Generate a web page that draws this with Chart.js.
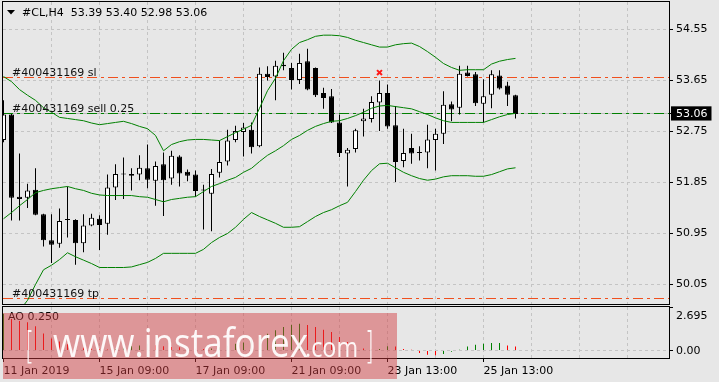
<!DOCTYPE html>
<html>
<head>
<meta charset="utf-8">
<script src="https://cdn.jsdelivr.net/npm/chart.js@4.4.1/dist/chart.umd.min.js"></script>
<style>
  html, body { margin: 0; padding: 0; background: #e7e7e7; }
  #wrap { position: relative; width: 719px; height: 382px; overflow: hidden; }
  #priceCanvas { position: absolute; left: 0; top: 0; }
  #aoCanvas { position: absolute; left: 0; top: 305px; }
</style>
</head>
<body>
<div id="wrap">
  <canvas id="priceCanvas" width="719" height="305"></canvas>
  <canvas id="aoCanvas" width="719" height="77"></canvas>
</div>
<script>
// CL H4 candles, 11 Jan - 25 Jan 2019 (one slot per bar)
const symbol = '#CL,H4';
const lastQuote = ['53.39', '53.40', '52.98', '53.06'];

const opens = [52.60, 53.05, 51.60, 51.58, 51.72, 51.29, 50.83, 50.77, 51.19, 51.19,
  50.78, 51.09, 51.21, 51.12, 51.76, 51.99, 52.00, 51.99, 52.10, 51.88,
  52.17, 51.92, 52.31, 52.04, 51.99, 51.71, 51.65, 52.02, 52.22, 52.60,
  52.74, 52.78, 52.49, 53.77, 53.72, 53.93, 53.87, 53.66, 53.99, 53.87,
  53.43, 53.37, 52.91, 52.36, 52.44, 52.93, 52.97, 53.26, 53.43, 52.86,
  52.23, 52.46, 52.37, 52.38, 52.60, 52.71, 53.23, 53.17, 53.79, 53.76,
  53.24, 53.40, 53.74, 53.56, 53.39];
const highs = [53.30, 53.06, 52.36, 51.83, 52.10, 51.30, 51.29, 51.39, 51.78, 51.20,
  51.29, 51.30, 51.27, 51.99, 52.17, 52.29, 52.10, 52.33, 52.52, 52.22,
  52.38, 52.41, 52.33, 52.08, 52.06, 51.81, 52.09, 52.59, 52.78, 52.85,
  52.90, 52.91, 53.88, 53.90, 54.00, 54.14, 53.96, 54.12, 54.21, 53.88,
  53.52, 53.50, 53.05, 52.46, 52.80, 53.15, 53.37, 53.65, 53.58, 53.20,
  52.80, 52.71, 52.49, 52.87, 52.80, 53.46, 53.28, 53.91, 53.91, 53.80,
  53.67, 53.83, 53.83, 53.63, 53.40];
const lows = [52.56, 51.18, 51.18, 51.40, 51.27, 50.72, 50.43, 50.70, 50.88, 50.40,
  50.62, 51.08, 50.66, 50.93, 51.54, 51.56, 51.71, 51.89, 51.75, 51.44,
  51.26, 51.81, 51.78, 51.87, 51.60, 51.02, 50.99, 51.94, 52.15, 52.56,
  52.31, 52.36, 52.47, 53.65, 53.30, 53.83, 53.49, 53.59, 53.48, 53.36,
  53.15, 52.90, 52.30, 51.78, 52.38, 52.66, 52.91, 52.76, 52.80, 51.86,
  52.12, 52.18, 52.24, 52.10, 52.06, 52.53, 52.93, 53.05, 53.72, 53.20,
  52.91, 53.16, 53.49, 53.20, 52.98];
const closes = [53.05, 51.58, 51.56, 51.71, 51.28, 50.83, 50.75, 51.17, 51.19, 50.78,
  51.09, 51.23, 51.10, 51.76, 52.00, 51.99, 51.97, 52.11, 51.90, 52.14,
  51.89, 52.32, 52.01, 51.97, 51.70, 51.71, 52.00, 52.21, 52.59, 52.76,
  52.82, 52.47, 53.77, 53.71, 53.91, 53.90, 53.66, 53.96, 53.49, 53.39,
  53.34, 52.91, 52.37, 52.43, 52.77, 52.98, 53.27, 53.43, 52.84, 52.21,
  52.37, 52.36, 52.37, 52.61, 52.71, 53.22, 53.14, 53.77, 53.73, 53.25,
  53.37, 53.76, 53.51, 53.40, 53.06];

// Bollinger bands as drawn
const bbUpper = [53.72, 53.63, 53.49, 53.39, 53.30, 53.17, 53.09, 53.00, 52.98, 52.96,
  52.94, 52.90, 52.87, 52.89, 52.91, 52.93, 52.89, 52.84, 52.80, 52.68,
  52.41, 52.52, 52.57, 52.60, 52.61, 52.61, 52.60, 52.59, 52.66, 52.73,
  52.79, 52.86, 53.16, 53.47, 53.69, 54.00, 54.20, 54.32, 54.37, 54.43,
  54.45, 54.45, 54.44, 54.41, 54.36, 54.32, 54.28, 54.24, 54.24, 54.28,
  54.30, 54.31, 54.25, 54.16, 54.06, 53.95, 53.88, 53.83, 53.84, 53.84,
  53.84, 53.94, 53.99, 54.02, 54.04];
const bbMiddle = [51.21, 51.32, 51.44, 51.55, 51.67, 51.71, 51.74, 51.76, 51.78, 51.74,
  51.71, 51.66, 51.63, 51.62, 51.62, 51.62, 51.62, 51.60, 51.59, 51.55,
  51.51, 51.55, 51.57, 51.59, 51.60, 51.69, 51.78, 51.83, 51.89, 51.94,
  52.03, 52.10, 52.22, 52.33, 52.41, 52.50, 52.61, 52.68, 52.77, 52.84,
  52.89, 52.93, 52.94, 52.98, 53.03, 53.09, 53.16, 53.20, 53.21, 53.19,
  53.17, 53.15, 53.10, 53.05, 52.99, 52.94, 52.91, 52.91, 52.91, 52.91,
  52.91, 52.96, 53.01, 53.05, 53.07];
const bbLower = [49.24, 49.41, 49.59, 49.77, 50.05, 50.31, 50.39, 50.49, 50.61, 50.54,
  50.48, 50.42, 50.35, 50.35, 50.35, 50.35, 50.36, 50.40, 50.44, 50.51,
  50.60, 50.60, 50.60, 50.60, 50.60, 50.67, 50.79, 50.88, 50.95, 51.06,
  51.20, 51.32, 51.25, 51.19, 51.13, 51.06, 51.06, 51.07, 51.16, 51.25,
  51.32, 51.37, 51.44, 51.50, 51.69, 51.89, 52.06, 52.18, 52.19, 52.11,
  52.03, 51.97, 51.92, 51.89, 51.91, 51.95, 51.97, 51.97, 51.97, 51.96,
  51.96, 51.99, 52.04, 52.09, 52.11];

// Awesome Oscillator
const aoValues = [2.28, 1.95, 1.82, 1.75, 1.50, 1.06, 0.75, 0.56, 0.38, 0.25,
  0.19, 0.13, 0.09, 0.06, 0.10, 0.18, 0.28, 0.31, 0.38, 0.33,
  0.27, 0.22, 0.20, 0.17, 0.13, 0.10, 0.12, 0.20, 0.30, 0.42,
  0.50, 0.70, 0.83, 1.04, 1.25, 1.46, 1.60, 1.65, 1.58, 1.46,
  1.29, 1.14, 0.83, 0.52, 0.42, 0.12, 0.05, 0.10, 0.27, 0.25,
  0.10, 0.04, -0.15, -0.27, -0.30, -0.22, -0.08, 0.05, 0.25, 0.35,
  0.42, 0.46, 0.47, 0.31, 0.25];
const aoLabel = 'AO 0.250';
const aoMax = 2.695;
const aoMin = -0.465;

// closed order marker
const closeMarks = [{ x: 47, y: 53.79 }];

// order levels
const orderId = '#400431169';
const slPrice = 53.70;
const entryPrice = 53.06;
const tpPrice = 49.80;
const bidPrice = 53.06;

// axes
const priceTicks = [50.05, 50.95, 51.85, 52.75, 53.65, 54.55];
const timeLabels = ['11 Jan 2019', '15 Jan 09:00', '17 Jan 09:00', '21 Jan 09:00', '23 Jan 13:00', '25 Jan 13:00'];

const X_MIN = -0.0625;
const X_MAX = 83.1875;
const GRID = '#c4c4c4';
const CLEAR = 'rgba(0,0,0,0)';

Chart.defaults.font.family = '"DejaVu Sans", sans-serif';
Chart.defaults.font.size = 11;
Chart.defaults.color = '#000';

function slotTicks(scale) {
  const t = [];
  for (let k = 0; k <= X_MAX; k += 6) t.push({ value: k });
  scale.ticks = t;
}

function fixWidth(w) {
  return scale => {
    scale.width = w;
    scale.paddingTop = 0;
    scale.paddingBottom = 0;
  };
}

function frame(ctx, a) {
  ctx.save();
  ctx.strokeStyle = '#000';
  ctx.lineWidth = 1;
  ctx.setLineDash([]);
  ctx.strokeRect(a.left - 0.5, a.top - 0.5, a.right - a.left + 1, a.bottom - a.top + 1);
  ctx.restore();
}

function hline(ctx, a, y, color, dash) {
  ctx.strokeStyle = color;
  ctx.setLineDash(dash);
  ctx.beginPath();
  ctx.moveTo(a.left, y);
  ctx.lineTo(a.right, y);
  ctx.stroke();
}

const priceDecor = {
  id: 'priceDecor',
  beforeDatasetsDraw(chart) {
    const { ctx, chartArea: a, scales: { y } } = chart;
    const row = v => Math.round(y.getPixelForValue(v) - 0.5) + 0.5;
    ctx.save();
    ctx.lineWidth = 1;
    hline(ctx, a, row(bidPrice), '#bcbcbc', []);
    hline(ctx, a, row(entryPrice), '#008000', [10, 4, 3, 4]);
    hline(ctx, a, row(slPrice), '#f0501e', [10, 4, 3, 4]);
    hline(ctx, a, row(tpPrice), '#f0501e', [10, 4, 3, 4]);
    ctx.restore();
  },
  afterDatasetsDraw(chart) {
    const { ctx, chartArea: a, scales: { y } } = chart;
    const row = v => Math.round(y.getPixelForValue(v) - 0.5) + 0.5;
    ctx.save();
    ctx.font = '11px "DejaVu Sans"';
    ctx.fillStyle = '#111';
    ctx.textBaseline = 'alphabetic';
    ctx.fillText(orderId + ' sl', 12, row(slPrice) - 1.5);
    ctx.fillText(orderId + ' sell 0.25', 12, row(entryPrice) - 1.5);
    ctx.fillText(orderId + ' tp', 12, row(tpPrice) - 1.5);

    // header
    ctx.fillStyle = '#000';
    ctx.beginPath();
    ctx.moveTo(7, 10);
    ctx.lineTo(15, 10);
    ctx.lineTo(11, 14.5);
    ctx.closePath();
    ctx.fill();
    ctx.textBaseline = 'middle';
    ctx.fillText(symbol + '  ' + lastQuote.join(' '), 22, 13);
    ctx.restore();
    frame(ctx, a);
  }
};

const aoDecor = {
  id: 'aoDecor',
  afterDraw(chart) {
    const { ctx, chartArea: a, scales: { y } } = chart;
    frame(ctx, a);
    ctx.save();
    ctx.font = '11px "DejaVu Sans"';
    ctx.fillStyle = '#000';
    ctx.textBaseline = 'middle';
    ctx.fillText(aoLabel, 8, 12.5);
    ctx.fillText(aoMax.toFixed(3), 676, y.getPixelForValue(aoMax) + 9);
    ctx.fillText('0.00', 676, y.getPixelForValue(0) + 1);

    // watermark
    ctx.fillStyle = 'rgba(211,59,63,0.47)';
    ctx.fillRect(3, 8, 394, 66);
    ctx.fillStyle = 'rgba(255,255,255,0.93)';
    ctx.textBaseline = 'alphabetic';
    const fit = (text, x, base, width) => {
      const w = ctx.measureText(text).width;
      ctx.save();
      ctx.translate(x, base);
      ctx.scale(width / w, 1);
      ctx.fillText(text, 0, 0);
      ctx.restore();
    };
    ctx.font = '41px "Open Sans"';
    fit('www.instaforex', 53, 52, 255);
    ctx.font = '28px "Open Sans"';
    fit('.com', 305, 52, 53);
    ctx.font = '200 38px "DejaVu Sans"';
    fit('[', 25, 53, 9);
    fit(']', 365, 53, 9);
    ctx.restore();
  }
};

const slot = (arr, fn) => arr.map((v, i) => ({ x: i, y: fn ? fn(v, i) : v }));

new Chart(document.getElementById('priceCanvas'), {
  type: 'bar',
  data: {
    datasets: [
      { type: 'line', data: slot(bbUpper), borderColor: '#008000', borderWidth: 1, pointRadius: 0, order: 0 },
      { type: 'line', data: slot(bbMiddle), borderColor: '#008000', borderWidth: 1, pointRadius: 0, order: 0 },
      { type: 'line', data: slot(bbLower), borderColor: '#008000', borderWidth: 1, pointRadius: 0, order: 0 },
      { type: 'line', data: closeMarks, showLine: false, pointStyle: 'crossRot', pointRadius: 3.5,
        borderColor: '#ff1a1a', borderWidth: 2, order: 0 },
      { data: slot(opens, (o, i) => [o, closes[i]]),
        backgroundColor: opens.map((o, i) => closes[i] >= o ? '#ffffff' : '#000000'),
        borderColor: '#000', borderWidth: 1, borderSkipped: false, barThickness: 5,
        minBarLength: 1, inflateAmount: 0, grouped: false, order: 1 },
      { data: slot(lows, (l, i) => [l, highs[i]]), backgroundColor: '#000',
        barThickness: 1, inflateAmount: 0, grouped: false, order: 2 }
    ]
  },
  options: {
    responsive: false,
    devicePixelRatio: 1,
    animation: false,
    layout: { padding: { left: 3, right: 0, top: 2, bottom: 1 }, autoPadding: false },
    plugins: { legend: { display: false }, tooltip: { enabled: false } },
    scales: {
      x: {
        type: 'linear', min: X_MIN, max: X_MAX, offset: false,
        afterBuildTicks: slotTicks,
        afterFit: s => { s.height = 0; s.paddingLeft = 0; s.paddingRight = 0; },
        ticks: { display: false },
        grid: { offset: false, color: c => c.tick && c.tick.value === 0 ? CLEAR : GRID, drawTicks: false },
        border: { display: false, dash: [3, 3] }
      },
      y: {
        position: 'right', min: 49.7059, max: 55.0353,
        afterBuildTicks: s => { s.ticks = priceTicks.concat([bidPrice]).map(v => ({ value: v })); },
        afterFit: fixWidth(50),
        ticks: {
          padding: 3,
          callback: v => v.toFixed(2),
          color: c => c.tick && c.tick.value === bidPrice ? '#fff' : '#000',
          showLabelBackdrop: c => !!(c.tick && c.tick.value === bidPrice),
          backdropColor: '#000',
          backdropPadding: { left: 5, right: 4, top: 1, bottom: 0 }
        },
        grid: { color: c => c.tick && c.tick.value === bidPrice ? CLEAR : GRID, tickLength: 4, tickColor: '#000' },
        border: { display: false, dash: [3, 3] }
      }
    }
  },
  plugins: [priceDecor]
});

new Chart(document.getElementById('aoCanvas'), {
  type: 'bar',
  data: {
    datasets: [{
      data: slot(aoValues),
      backgroundColor: aoValues.map((v, i) => i === 0 || v > aoValues[i - 1] ? '#008000' : '#ff0000'),
      barThickness: 1, inflateAmount: 0, borderWidth: 0
    }]
  },
  options: {
    responsive: false,
    devicePixelRatio: 1,
    animation: false,
    layout: { padding: { left: 3, right: 0, top: 2, bottom: 0 }, autoPadding: false },
    plugins: { legend: { display: false }, tooltip: { enabled: false } },
    scales: {
      x: {
        type: 'linear', min: X_MIN, max: X_MAX, offset: false,
        afterBuildTicks: slotTicks,
        afterFit: s => { s.height = 24; s.paddingLeft = 0; s.paddingRight = 0; },
        ticks: {
          autoSkip: false, maxRotation: 0, align: 'start', padding: 3,
          callback: v => (v % 12 === 0 && timeLabels[v / 12]) ? timeLabels[v / 12] : ''
        },
        grid: {
          offset: false,
          color: c => c.tick && c.tick.value === 0 ? CLEAR : GRID,
          tickLength: 4,
          tickColor: c => c.tick && c.tick.value % 12 === 0 && timeLabels[c.tick.value / 12] ? '#000' : CLEAR
        },
        border: { display: false, dash: [3, 3] }
      },
      y: {
        position: 'right', min: aoMin, max: aoMax,
        afterBuildTicks: s => { s.ticks = [{ value: 0 }, { value: aoMax }]; },
        afterFit: fixWidth(50),
        ticks: { display: false },
        grid: { color: c => c.tick && c.tick.value === 0 ? GRID : CLEAR, tickLength: 4, tickColor: '#000' },
        border: { display: false, dash: [3, 3] }
      }
    }
  },
  plugins: [aoDecor]
});
</script>
</body>
</html>
